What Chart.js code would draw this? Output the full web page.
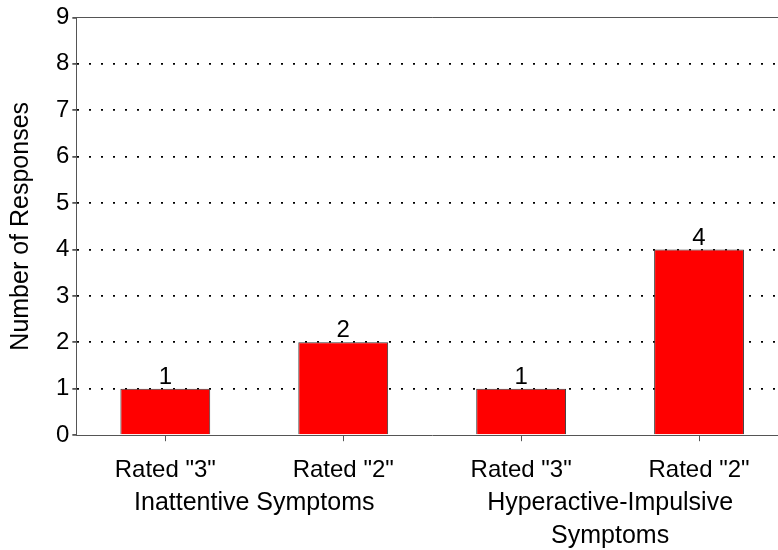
<!DOCTYPE html>
<html lang="en">
  <head>
    <meta charset="utf-8">
    <title>Number of Responses</title>
    <style>
      html, body { margin: 0; padding: 0; background: #fff; overflow: hidden; }
      #wrap { width: 788px; height: 550px; }
    </style>
  </head>
  <body>
    <div id="wrap"><canvas id="MyCanvas"></canvas></div>

    <script src="https://cdn.jsdelivr.net/npm/chart.js@4/dist/chart.umd.min.js"></script>
    <script>
      // data
      var categories = ['Rated "3"', 'Rated "2"', 'Rated "3"', 'Rated "2"'];
      var responses = [1, 2, 1, 4];
      var groupLabels = [['Inattentive Symptoms'], ['Hyperactive-Impulsive', 'Symptoms']];
      var groupSpans = [[0, 1], [2, 3]];
      var yTicks = [0, 1, 2, 3, 4, 5, 6, 7, 8, 9];

      var fontFamily = '"Liberation Sans", Arial, sans-serif';
      var fontSize = 24;

      // labels over bars, group names under the axis, top border
      var extras = {
        id: 'extras',
        afterDatasetsDraw: function (chart) {
          var c = chart.ctx;
          var meta = chart.getDatasetMeta(0);
          c.save();
          c.fillStyle = '#000';
          c.font = fontSize + 'px ' + fontFamily;
          c.textAlign = 'center';
          c.textBaseline = 'alphabetic';
          meta.data.forEach(function (bar, i) {
            c.fillText(String(responses[i]), bar.x, bar.y - 5);
          });
          c.restore();
        },
        afterDraw: function (chart) {
          var c = chart.ctx;
          var area = chart.chartArea;
          var xs = chart.scales.x;
          c.save();
          c.strokeStyle = '#555';
          c.lineWidth = 1;
          c.beginPath();
          c.moveTo(area.left, Math.round(area.top) + 0.5);
          c.lineTo(area.right, Math.round(area.top) + 0.5);
          c.stroke();

          c.fillStyle = '#000';
          c.font = (fontSize + 1) + 'px ' + fontFamily;
          c.textAlign = 'center';
          c.textBaseline = 'middle';
          groupLabels.forEach(function (lines, g) {
            var x = (xs.getPixelForValue(groupSpans[g][0]) + xs.getPixelForValue(groupSpans[g][1])) / 2;
            lines.forEach(function (line, k) {
              c.fillText(line, x, area.bottom + 68 + k * 33);
            });
          });
          c.restore();
        }
      };

      var ctx = document.getElementById('MyCanvas');
      var MyCanvas = new Chart(ctx, {
        type: 'bar',
        data: {
          labels: categories,
          datasets: [{
            label: 'Number of Responses',
            data: responses,
            backgroundColor: '#ff0000',
            borderColor: '#3a3a3a',
            borderWidth: 1,
            barPercentage: 0.505,
            categoryPercentage: 1.0
          }]
        },
        options: {
          responsive: true,
          maintainAspectRatio: false,
          animation: false,
          layout: { padding: { left: 6, top: -4, right: 0, bottom: 50 } },
          plugins: {
            legend: { display: false },
            tooltip: { enabled: false }
          },
          scales: {
            x: {
              grid: {
                offset: false,
                drawOnChartArea: false,
                tickColor: '#555',
                tickLength: 6
              },
              border: { color: '#555', width: 1 },
              ticks: {
                color: '#000',
                font: { family: fontFamily, size: fontSize },
                padding: 15,
                maxRotation: 0
              }
            },
            y: {
              min: 0,
              max: 9,
              afterBuildTicks: function (axis) {
                axis.ticks = yTicks.map(function (v) { return { value: v }; });
              },
              grid: {
                color: function (c) {
                  return (c.tick && c.tick.value > 0 && c.tick.value < 9) ? '#000' : 'rgba(0,0,0,0)';
                },
                lineWidth: 1.8,
                tickColor: '#555',
                tickLength: 4
              },
              border: { color: '#555', width: 1, dash: [2, 10] },
              ticks: {
                color: '#000',
                font: { family: fontFamily, size: fontSize },
                padding: 3
              },
              title: {
                display: true,
                text: 'Number of Responses',
                color: '#000',
                font: { family: fontFamily, size: fontSize + 1 },
                padding: { top: 0, bottom: 17 }
              }
            }
          }
        },
        plugins: [extras]
      });
    </script>
  </body>
</html>
